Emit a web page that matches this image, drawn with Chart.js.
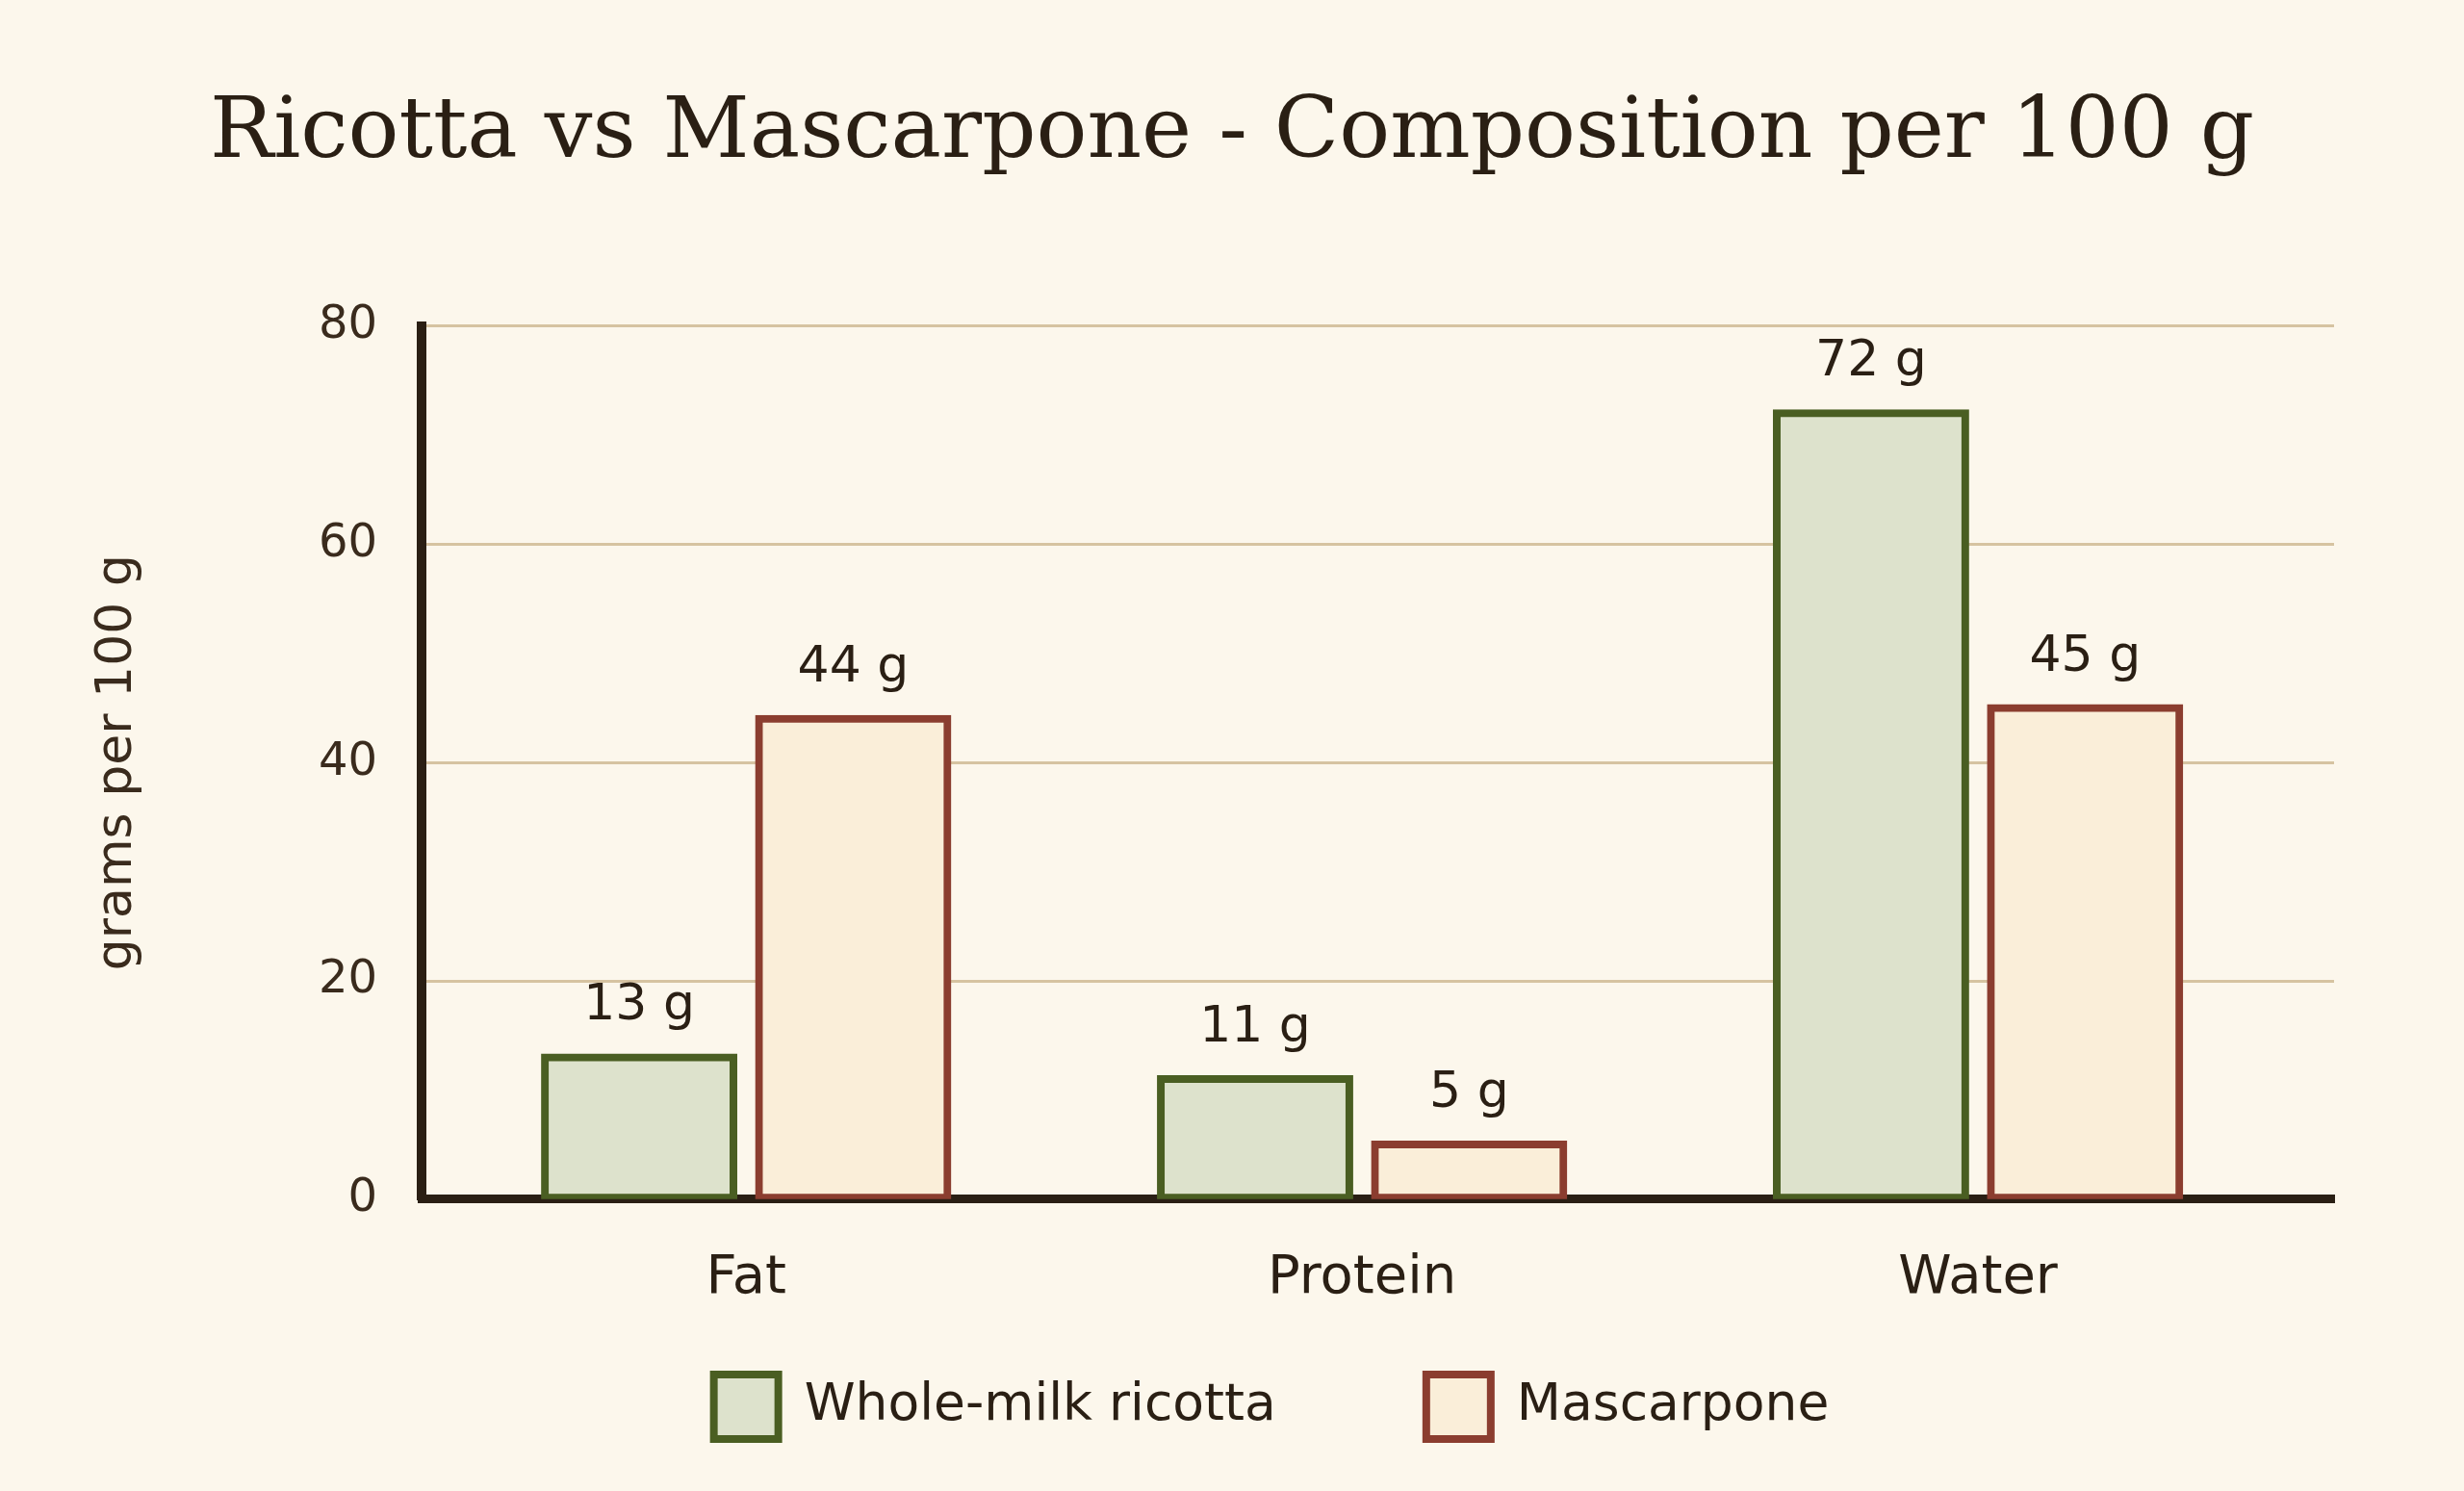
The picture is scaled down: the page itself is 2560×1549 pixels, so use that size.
<!DOCTYPE html>
<html>
<head>
<meta charset="utf-8">
<title>Ricotta vs Mascarpone</title>
<script src="https://cdn.jsdelivr.net/npm/chart.js@4.4.1/dist/chart.umd.min.js"></script>
<style>
  html, body { margin: 0; padding: 0; background: #fcf7ec; }
  canvas { display: block; }
</style>
</head>
<body>
<canvas id="chart" width="2560" height="1549"></canvas>
<script>
// values, grams per 100 g
const categories = ['Fat', 'Protein', 'Water'];
const ricotta = [13, 11, 72];
const mascarpone = [44, 5, 45];
const seriesNames = ['Whole-milk ricotta', 'Mascarpone'];
const yTicks = [0, 20, 40, 60, 80];

const INK = '#2a1f14';
const SOFT_INK = '#3a2b1d';

// paint the cream page behind everything
const pageBackground = {
    id: 'pageBackground',
    beforeDraw(chart) {
        const ctx = chart.ctx;
        ctx.save();
        ctx.fillStyle = '#fcf7ec';
        ctx.fillRect(0, 0, chart.width, chart.height);
        ctx.restore();
    }
};

// "NN g" above each bar
const valueLabels = {
    id: 'valueLabels',
    afterDatasetsDraw(chart) {
        const ctx = chart.ctx;
        ctx.save();
        ctx.font = '52px "DejaVu Sans"';
        ctx.fillStyle = INK;
        ctx.textAlign = 'center';
        ctx.textBaseline = 'alphabetic';
        chart.data.datasets.forEach((ds, i) => {
            chart.getDatasetMeta(i).data.forEach((bar, j) => {
                ctx.fillText(ds.data[j].y + ' g', bar.x, bar.y - 39);
            });
        });
        ctx.restore();
    }
};

// legend with wide spacing between the two entries
const bottomLegend = {
    id: 'bottomLegend',
    afterDraw(chart, args, opts) {
        const ctx = chart.ctx;
        const box = opts.box, bw = opts.border;
        ctx.save();
        ctx.font = opts.fontSize + 'px "DejaVu Sans"';
        const widths = chart.data.datasets.map(ds => box + opts.gap + ctx.measureText(ds.label).width);
        const total = widths.reduce((a, b) => a + b, 0) + opts.spacing * (widths.length - 1);
        let x = opts.centerX - total / 2;
        chart.data.datasets.forEach((ds, i) => {
            ctx.fillStyle = ds.borderColor;
            ctx.fillRect(x, opts.top, box, box);
            ctx.fillStyle = ds.backgroundColor;
            ctx.fillRect(x + bw, opts.top + bw, box - 2 * bw, box - 2 * bw);
            ctx.fillStyle = INK;
            ctx.textAlign = 'left';
            ctx.textBaseline = 'middle';
            ctx.fillText(ds.label, x + box + opts.gap, opts.top + box / 2);
            x += widths[i] + opts.spacing;
        });
        ctx.restore();
    }
};

Chart.defaults.font.family = '"DejaVu Sans", sans-serif';

const toPoints = arr => arr.map((v, i) => ({ x: i, y: v }));

new Chart(document.getElementById('chart').getContext('2d'), {
    type: 'bar',
    data: {
        datasets: [
            {
                label: seriesNames[0],
                data: toPoints(ricotta),
                backgroundColor: '#dde2cc',
                borderColor: '#4a5e22',
            },
            {
                label: seriesNames[1],
                data: toPoints(mascarpone),
                backgroundColor: '#faeed9',
                borderColor: '#8b3d2f',
            }
        ]
    },
    options: {
        responsive: false,
        animation: false,
        layout: { padding: { top: 0, bottom: 146, left: 0, right: 0 } },
        datasets: {
            bar: {
                categoryPercentage: 0.695,
                barPercentage: 0.881,
                borderWidth: 8,
                borderSkipped: false,
                inflateAmount: 4  // stroke straddles the bar edge
            }
        },
        plugins: {
            legend: { display: false },
            tooltip: { enabled: false },
            title: {
                display: true,
                text: 'Ricotta vs Mascarpone - Composition per 100 g',
                color: INK,
                font: { family: '"DejaVu Serif", serif', size: 88, weight: 'normal' },
                padding: { top: 87, bottom: 146 }
            },
            bottomLegend: {
                top: 1424, box: 75, border: 8, fontSize: 53.5,
                gap: 23, spacing: 152, centerX: 1319
            }
        },
        scales: {
            x: {
                type: 'linear',
                offset: false,
                min: -0.527,
                max: 2.578,
                afterBuildTicks: s => { s.ticks = categories.map((c, i) => ({ value: i })); },
                grid: { display: false },
                border: { color: INK, width: 9 },
                ticks: {
                    color: INK,
                    font: { size: 56 },
                    padding: 41,
                    callback: v => categories[v]
                }
            },
            y: {
                min: 0,
                max: 80,
                afterBuildTicks: s => { s.ticks = yTicks.map(v => ({ value: v })); },
                afterFit: s => { s.width = 438; },
                grid: { color: '#d6c3a1', lineWidth: 3, drawTicks: false },
                border: { color: INK, width: 10 },
                ticks: { color: SOFT_INK, font: { size: 48 }, padding: 46 },
                title: {
                    display: true,
                    text: 'grams per 100 g',
                    color: SOFT_INK,
                    font: { size: 52 },
                    padding: { top: 91, bottom: 0 }
                }
            },
            // empty right-hand axis keeps the plot clear of the right edge
            // without shifting the centred title
            rightPad: {
                position: 'right',
                grid: { display: false },
                border: { display: false },
                ticks: { display: false },
                afterFit: s => { s.width = 135; }
            }
        }
    },
    plugins: [pageBackground, valueLabels, bottomLegend]
});
</script>
</body>
</html>
